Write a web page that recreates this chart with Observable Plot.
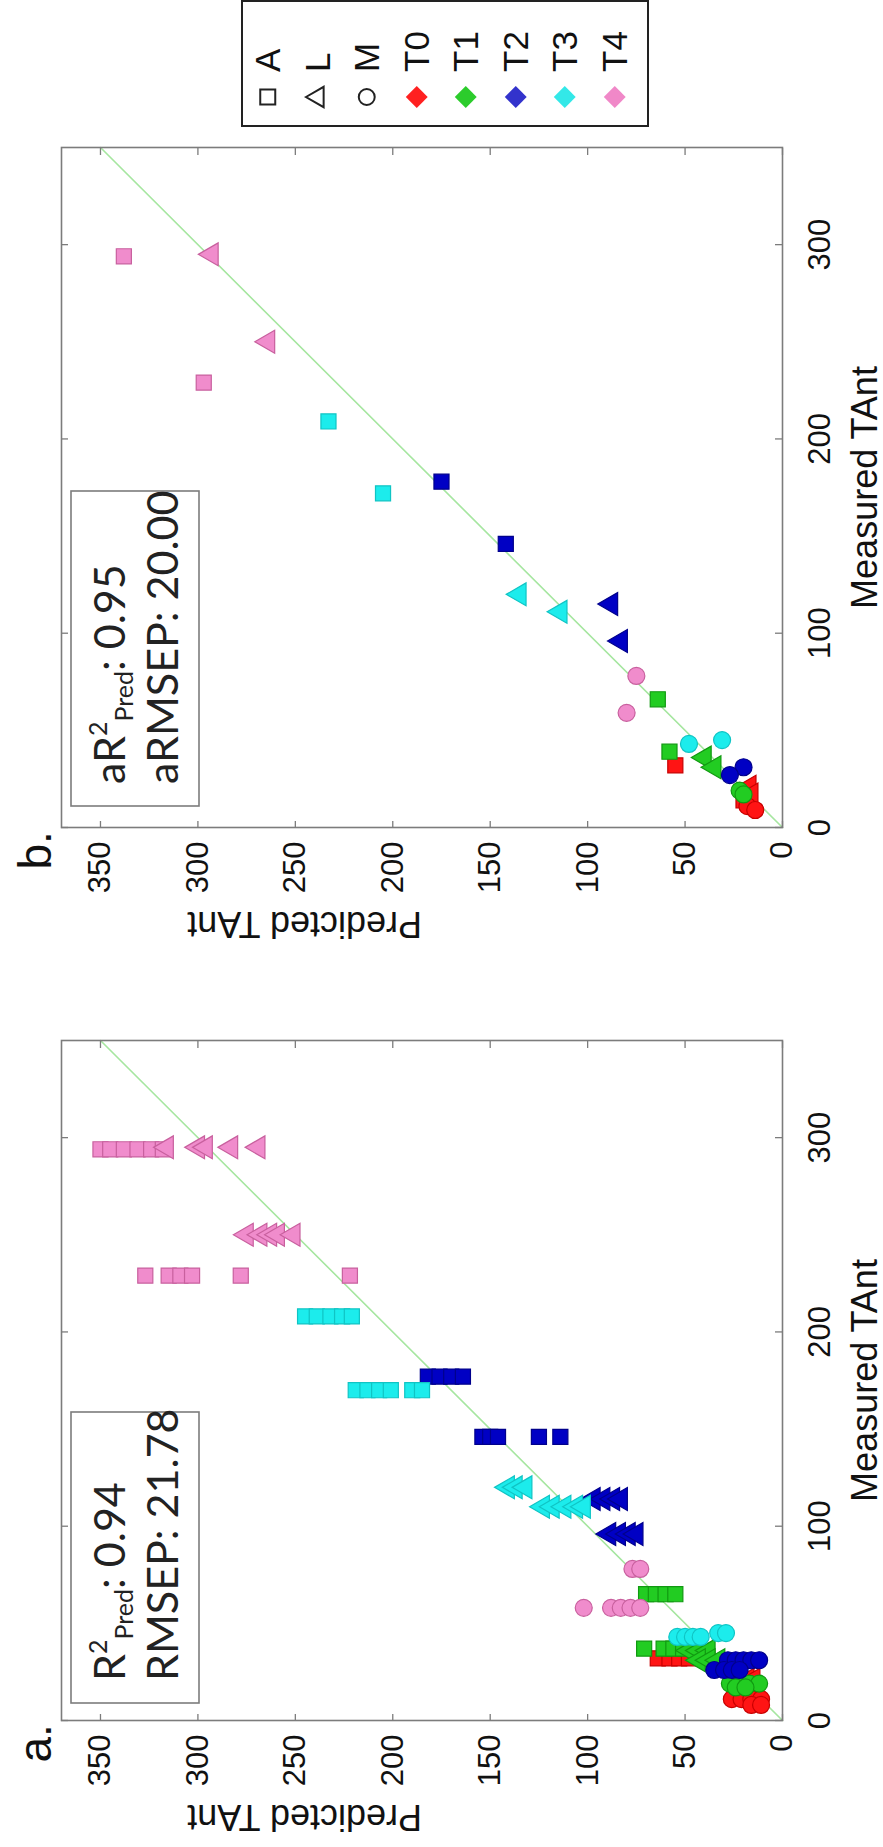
<!DOCTYPE html>
<html>
<head>
<meta charset="utf-8">
<script src="https://cdn.jsdelivr.net/npm/d3@7"></script>
<script src="https://cdn.jsdelivr.net/npm/@observablehq/plot@0.6"></script>
<style>
  html, body { margin: 0; padding: 0; background: #fff; }
  body { width: 883px; height: 1847px; overflow: hidden; position: relative; }
  #fig {
    position: absolute; left: 0; top: 0; width: 1847px; height: 883px;
    transform-origin: 0 0; transform: translateY(1847px) rotate(-90deg);
    font-family: "Liberation Sans", Arial, sans-serif; background: #fff;
  }
  .panel { position: absolute; top: 0; max-width: none !important; }
  #legend {
    position: absolute; left: 1720px; top: 241px; width: 127px; height: 408px;
    border: 2px solid #222; box-sizing: border-box; background: #fff;
  }
  .row { height: 49.5px; display: flex; align-items: center; }
  .row svg { width: 53px; height: 49.5px; flex: none; }
  .row span { font-size: 35px; color: #111; line-height: 49.5px; }
</style>
</head>
<body>
<div id="fig"></div>
<script>
// ---------- data ----------
const types = ["A", "L", "M"];
const typeSymbol = ["square", "triangle", "circle"];
const treatments = ["T0", "T1", "T2", "T3", "T4"];
const treatmentFill = ["#ff1414", "#22cc22", "#0000c4", "#1cecec", "#f08ccc"];
const treatmentEdge = ["#c80000", "#119911", "#00008c", "#10c4c4", "#c8609e"];
const treatmentLegend = ["#ff2020", "#2ccc2c", "#3333cc", "#33e8e8", "#f088c8"];
const measuredTicks = [0, 100, 200, 300];
const predictedTicks = [0, 50, 100, 150, 200, 250, 300, 350];
const identityLine = [0, 350];
const xLabel = "Measured TAnt";
const yLabel = "Predicted TAnt";

// Panel a: [type, treatment, measured, predicted replicates]
const panelAGroups = [
  ["M", "T0", 11, [26, 21, 16, 11]],
  ["M", "T0", 8, [16, 11]],
  ["A", "T0", 32, [64, 58, 53, 48]],
  ["A", "T0", 14, [22, 18]],
  ["L", "T0", 21, [22, 18, 15]],
  ["L", "T0", 17, [19, 15]],
  ["A", "T1", 65, [70, 65, 60, 55]],
  ["A", "T1", 37, [71, 61, 56, 51]],
  ["L", "T1", 36, [48, 43, 38]],
  ["L", "T1", 31, [43, 38, 33]],
  ["M", "T1", 19, [27, 22, 17, 12]],
  ["M", "T1", 17, [24, 19]],
  ["A", "T2", 177, [182, 176, 170, 164]],
  ["A", "T2", 146, [154, 150, 146, 125, 114]],
  ["L", "T2", 114, [97, 92, 87, 83]],
  ["L", "T2", 96, [89, 84, 79, 75]],
  ["M", "T2", 31, [28, 24, 20, 16, 12]],
  ["M", "T2", 26, [35, 30, 26, 22]],
  ["A", "T3", 208, [245, 239, 232, 226, 221]],
  ["A", "T3", 170, [219, 213, 207, 201, 190, 185]],
  ["L", "T3", 120, [141, 137, 132]],
  ["L", "T3", 110, [123, 118, 112, 106, 102]],
  ["M", "T3", 43, [54, 50, 46, 42]],
  ["M", "T3", 45, [33, 29]],
  ["A", "T4", 294, [350, 345, 338, 331, 324, 318]],
  ["A", "T4", 229, [327, 315, 309, 303, 278, 222]],
  ["L", "T4", 295, [316, 300, 296, 283, 269]],
  ["L", "T4", 250, [275, 268, 263, 259, 251]],
  ["M", "T4", 78, [77, 73]],
  ["M", "T4", 58, [102, 88, 83, 78, 73]]
];

// Panel b: [type, treatment, measured, predicted]
const panelBPoints = [
  ["M", "T0", 11, 18], ["M", "T0", 9, 14],
  ["A", "T0", 32, 55], ["A", "T0", 14, 20],
  ["L", "T0", 21, 17], ["L", "T0", 17, 16],
  ["A", "T1", 66, 64], ["A", "T1", 39, 58],
  ["L", "T1", 36, 40], ["L", "T1", 31, 35],
  ["M", "T1", 19, 22], ["M", "T1", 17, 20],
  ["A", "T2", 178, 175], ["A", "T2", 146, 142],
  ["L", "T2", 115, 88], ["L", "T2", 96, 83],
  ["M", "T2", 31, 20], ["M", "T2", 27, 27],
  ["A", "T3", 209, 233], ["A", "T3", 172, 205],
  ["L", "T3", 120, 135], ["L", "T3", 111, 114],
  ["M", "T3", 43, 48], ["M", "T3", 45, 31],
  ["A", "T4", 294, 338], ["A", "T4", 229, 297],
  ["L", "T4", 295, 293], ["L", "T4", 250, 264],
  ["M", "T4", 78, 75], ["M", "T4", 59, 80]
];

const statsA = {prefix: "", r2: "0.94", rmsepLabel: "RMSEP", rmsep: "21.78"};
const statsB = {prefix: "a", r2: "0.95", rmsepLabel: "aRMSEP", rmsep: "20.00"};

// ---------- drawing ----------
const frameW = 680, frameH = 721;
const M = {top: 61, bottom: 101, left: 126};
const frameColor = "#7c7c7c";
const fontFamily = '"Liberation Sans", Arial, sans-serif';
const statsFont = "Lato, 'Open Sans', sans-serif";

function makePanel({points, width, marginRight, label, stats, boxDx, boxW}) {
  const dots = [];
  treatments.forEach((t, ti) => {
    types.forEach((ty, yi) => {
      const sub = points.filter(d => d.t === t && d.type === ty);
      if (sub.length) dots.push(Plot.dot(sub, {
        x: "measured", y: "predicted", symbol: typeSymbol[yi], r: 8.5,
        fill: treatmentFill[ti], stroke: treatmentEdge[ti], strokeWidth: 1.2
      }));
    });
  });
  const svg = Plot.plot({
    width, height: frameH + M.top + M.bottom,
    marginTop: M.top, marginBottom: M.bottom, marginLeft: M.left, marginRight,
    x: {domain: [0, 350], axis: null},
    y: {domain: [0, 370], axis: null},
    style: {fontFamily, background: "transparent", overflow: "visible", color: "#111"},
    marks: [
      Plot.line(identityLine, {x: d => d, y: d => d, stroke: "#a6e6a0", strokeWidth: 1.6}),
      ...dots,
      Plot.frame({stroke: frameColor, strokeWidth: 1.6}),
      Plot.tickX(measuredTicks, {x: d => d, insetTop: frameH - 7, stroke: frameColor, strokeWidth: 1.3}),
      Plot.tickX(measuredTicks, {x: d => d, insetBottom: frameH - 7, stroke: frameColor, strokeWidth: 1.3}),
      Plot.tickY(predictedTicks, {y: d => d, insetRight: frameW - 7, stroke: frameColor, strokeWidth: 1.3}),
      Plot.tickY(predictedTicks, {y: d => d, insetLeft: frameW - 7, stroke: frameColor, strokeWidth: 1.3}),
      Plot.text(measuredTicks, {x: d => d, text: d => String(d), frameAnchor: "bottom", dy: 47, lineAnchor: "bottom", fontSize: 31, fill: "#111"}),
      Plot.text(predictedTicks, {y: d => d, text: d => String(d), frameAnchor: "left", dx: -14, textAnchor: "end", lineAnchor: "middle", fontSize: 31, fill: "#111"}),
      Plot.text([xLabel], {text: d => d, frameAnchor: "bottom", dy: 94, lineAnchor: "bottom", fontSize: 36, fill: "#111"}),
      Plot.text([yLabel], {text: d => d, frameAnchor: "left", dx: -84, rotate: -90, lineAnchor: "bottom", fontSize: 36, fill: "#111"}),
      Plot.text([label], {text: d => d, frameAnchor: "top-left", dx: -42, dy: -11, lineAnchor: "bottom", textAnchor: "start", fontSize: 46, fill: "#111"})
    ]
  });
  // statistics annotation box
  const g = d3.select(svg).append("g").attr("text-anchor", "start");
  const bx = M.left + boxDx, by = M.top + 10;
  g.append("rect").attr("x", bx).attr("y", by).attr("width", boxW).attr("height", 128)
    .attr("fill", "#fff").attr("stroke", frameColor).attr("stroke-width", 1.6);
  const tx = bx + 22;
  const t1 = g.append("text").attr("x", tx).attr("y", M.top + 64).attr("text-anchor", "start")
    .attr("font-family", statsFont).attr("font-size", 43).attr("fill", "#222");
  t1.append("tspan").text(stats.prefix + "R");
  t1.append("tspan").attr("font-size", 25).attr("dy", -18).text("2");
  t1.append("tspan").attr("font-size", 25).attr("dy", 26).text("Pred");
  t1.append("tspan").attr("dy", -8).text(": " + stats.r2);
  g.append("text").attr("x", tx).attr("y", M.top + 117).attr("text-anchor", "start")
    .attr("font-family", statsFont).attr("font-size", 43).attr("fill", "#222")
    .text(stats.rmsepLabel + ": " + stats.rmsep);
  svg.classList.add("panel");
  return svg;
}

const pointsA = panelAGroups.flatMap(([type, t, measured, preds]) =>
  preds.map(predicted => ({type, t, measured, predicted})));
const pointsB = panelBPoints.map(([type, t, measured, predicted]) => ({type, t, measured, predicted}));

const fig = document.getElementById("fig");
const svgA = makePanel({points: pointsA, width: 893, marginRight: 87, label: "a.", stats: statsA, boxDx: 18, boxW: 291});
svgA.style.left = "0px";
fig.appendChild(svgA);
const svgB = makePanel({points: pointsB, width: 954, marginRight: 148, label: "b.", stats: statsB, boxDx: 22, boxW: 315});
svgB.style.left = "893px";
fig.appendChild(svgB);

// ---------- legend ----------
const legend = document.createElement("div");
legend.id = "legend";
fig.appendChild(legend);
const symbolFn = {square: d3.symbolSquare, triangle: d3.symbolTriangle, circle: d3.symbolCircle};
const symbolArea = {square: 225, triangle: 180, circle: 200};
function legendRow(name, draw) {
  const row = d3.select(legend).append("div").attr("class", "row");
  const s = row.append("svg");
  draw(s.append("g").attr("transform", "translate(28,24.75)"));
  row.append("span").text(name);
}
types.forEach((ty, i) => legendRow(ty, g => g.append("path")
  .attr("d", d3.symbol(symbolFn[typeSymbol[i]], symbolArea[typeSymbol[i]])())
  .attr("fill", "#fff").attr("stroke", "#222").attr("stroke-width", 2)));
treatments.forEach((t, i) => legendRow(t, g => g.append("path")
  .attr("d", d3.symbol(d3.symbolSquare, 240)()).attr("transform", "rotate(45)")
  .attr("fill", treatmentLegend[i]).attr("stroke", "none")));
</script>
</body>
</html>
